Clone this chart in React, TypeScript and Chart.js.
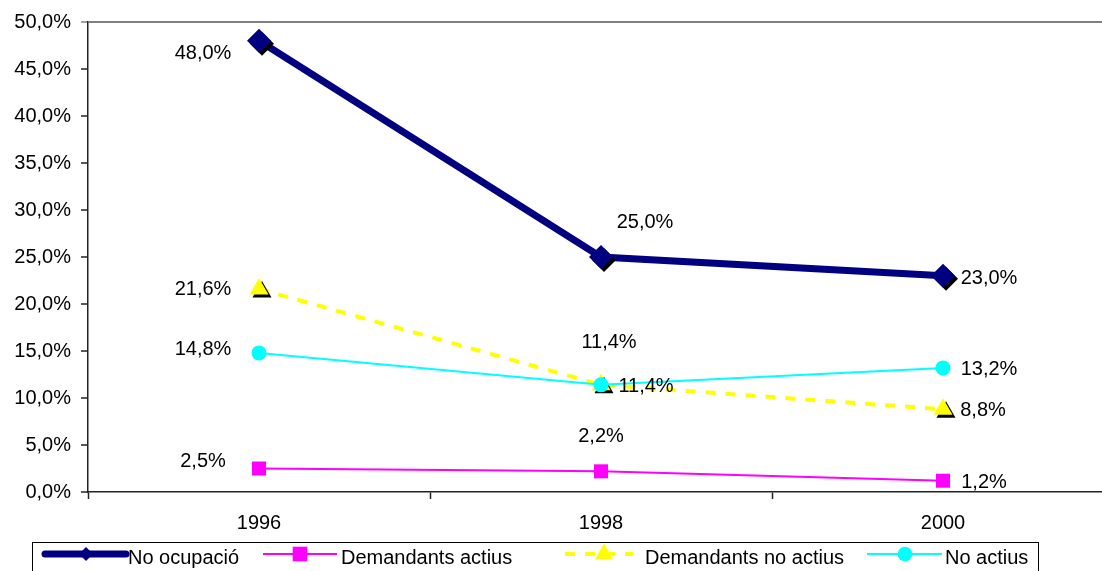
import React, { useEffect, useRef } from 'react';
import { Chart, registerables } from 'chart.js';

Chart.register(...registerables);

// ---- data ----
const years = ['1996', '1998', '2000'];
const seriesNames = ['No ocupació', 'Demandants actius', 'Demandants no actius', 'No actius'];
const noOcupacio = [48.0, 25.0, 23.0];
const demandantsActius = [2.5, 2.2, 1.2];
const demandantsNoActius = [21.6, 11.4, 8.8];
const noActius = [14.8, 11.4, 13.2];
const yMin = 0;
const yMax = 50;
const yStep = 5;

// ---- style ----
const FONT_FAMILY = '"Liberation Sans", Arial, sans-serif';
const FONT_SIZE = 20;
const FONT = `${FONT_SIZE}px ${FONT_FAMILY}`;

const styles = [
  { color: '#000080', width: 7, dash: [] as number[], shape: 'diamond', r: 12, shadow: true, legendR: 7 },
  { color: '#FF00FF', width: 2, dash: [] as number[], shape: 'square', r: 7, shadow: false, legendR: 7.3 },
  { color: '#FFFF00', width: 4, dash: [10, 10], shape: 'triangle', r: 11, shadow: true, legendR: 10.4 },
  { color: '#00FFFF', width: 2, dash: [] as number[], shape: 'circle', r: 7.5, shadow: false, legendR: 7.3 },
];

// label offsets relative to point (dx, dy) for the center of the label
const labelOffsets = [
  [[-56, 13], [44, -35], [46, 3]],
  [[-56, -7], [0, -35], [41, 2]],
  [[-56, 1], [45, 2], [40, 1]],
  [[-56, -3], [8, -42], [46, 2]],
];

// legend layout (x positions in page px)
const legendBox = { x: 32.5, y: 542.5, w: 1006, h: 60 };
const legendLineY = 554;
const legendTextY = 558;
const legendItems = [
  { x0: 45, x1: 126, mx: 86, tx: 128 },
  { x0: 263, x1: 337, mx: 300, tx: 341 },
  { x0: 565, x1: 633, mx: 604, tx: 645 },
  { x0: 867, x1: 942, mx: 905, tx: 945 },
];

const fmt = (v: number) => v.toFixed(1).replace('.', ',') + '%';

function drawShape(ctx: CanvasRenderingContext2D, shape: string, x: number, y: number, r: number) {
  ctx.beginPath();
  if (shape === 'diamond') {
    ctx.moveTo(x - r, y);
    ctx.lineTo(x, y - r);
    ctx.lineTo(x + r, y);
    ctx.lineTo(x, y + r);
  } else if (shape === 'triangle') {
    ctx.moveTo(x, y - r);
    ctx.lineTo(x + 0.866 * r, y + 0.5 * r);
    ctx.lineTo(x - 0.866 * r, y + 0.5 * r);
  } else if (shape === 'square') {
    ctx.rect(x - r, y - r, 2 * r, 2 * r);
  } else {
    ctx.arc(x, y, r, 0, Math.PI * 2);
  }
  ctx.closePath();
  ctx.fill();
}

const markerPlugin = {
  id: 'markers',
  afterDatasetDraw(chart: any, args: any) {
    const st = styles[args.index];
    const ctx = chart.ctx as CanvasRenderingContext2D;
    ctx.save();
    args.meta.data.forEach((pt: any) => {
      if (st.shadow) {
        ctx.fillStyle = '#000';
        drawShape(ctx, st.shape, pt.x + 3, pt.y + 3, st.r);
      }
      ctx.fillStyle = st.color;
      drawShape(ctx, st.shape, pt.x, pt.y, st.r);
    });
    ctx.restore();
  },
};

const labelPlugin = {
  id: 'valueLabels',
  afterDatasetsDraw(chart: any) {
    const ctx = chart.ctx as CanvasRenderingContext2D;
    ctx.save();
    ctx.font = FONT;
    ctx.fillStyle = '#000';
    ctx.textAlign = 'center';
    ctx.textBaseline = 'middle';
    chart.data.datasets.forEach((ds: any, i: number) => {
      const meta = chart.getDatasetMeta(i);
      meta.data.forEach((pt: any, j: number) => {
        const [dx, dy] = labelOffsets[i][j];
        ctx.fillText(fmt(ds.data[j]), pt.x + dx, pt.y + dy);
      });
    });
    ctx.restore();
  },
};

const legendPlugin = {
  id: 'boxLegend',
  afterDraw(chart: any) {
    const ctx = chart.ctx as CanvasRenderingContext2D;
    ctx.save();
    ctx.fillStyle = '#fff';
    ctx.fillRect(legendBox.x, legendBox.y, legendBox.w, legendBox.h);
    ctx.strokeStyle = '#000';
    ctx.lineWidth = 1;
    ctx.strokeRect(legendBox.x, legendBox.y, legendBox.w, legendBox.h);
    legendItems.forEach((it, i) => {
      const st = styles[i];
      ctx.save();
      ctx.strokeStyle = st.color;
      ctx.lineWidth = st.width;
      ctx.lineCap = i === 0 ? 'round' : 'butt';
      ctx.setLineDash(st.dash);
      ctx.beginPath();
      ctx.moveTo(it.x0, legendLineY);
      ctx.lineTo(it.x1, legendLineY);
      ctx.stroke();
      ctx.restore();
      ctx.fillStyle = st.color;
      drawShape(ctx, st.shape, it.mx, legendLineY, st.legendR);
      ctx.fillStyle = '#000';
      ctx.font = FONT;
      ctx.textAlign = 'left';
      ctx.textBaseline = 'middle';
      ctx.fillText(seriesNames[i], it.tx, legendTextY);
    });
    ctx.restore();
  },
};

export default function App() {
  const ref = useRef<HTMLCanvasElement | null>(null);
  useEffect(() => {
    if (!ref.current) return;
    const seriesData = [noOcupacio, demandantsActius, demandantsNoActius, noActius];
    const chart = new Chart(ref.current, {
      type: 'line',
      data: {
        labels: years,
        datasets: seriesData.map((d, i) => ({
          label: seriesNames[i],
          data: d,
          borderColor: styles[i].color,
          backgroundColor: styles[i].color,
          borderWidth: styles[i].width,
          borderDash: styles[i].dash,
          pointRadius: 0,
          pointHoverRadius: 0,
          tension: 0,
          fill: false,
          order: 4 - i,
        })),
      },
      options: {
        responsive: false,
        animation: false,
        events: [],
        layout: { padding: { top: 20, left: 0, right: 0, bottom: 58 } },
        plugins: { legend: { display: false }, tooltip: { enabled: false } },
        scales: {
          x: {
            type: 'category',
            offset: true,
            afterFit: (s: any) => { s.height = 50; },
            grid: {
              display: true,
              drawOnChartArea: false,
              drawTicks: true,
              tickLength: 7,
              tickColor: '#222',
              tickWidth: 1.5,
              offset: true,
            },
            border: { display: true, color: '#222', width: 1.5 },
            ticks: { color: '#000', font: { family: FONT_FAMILY, size: FONT_SIZE }, padding: 12, maxRotation: 0 },
          },
          y: {
            min: yMin,
            max: yMax,
            afterFit: (s: any) => { s.width = 88; },
            grid: {
              drawOnChartArea: true,
              color: (c: any) => (c.tick && c.tick.value === yMax ? '#808080' : 'rgba(0,0,0,0)'),
              lineWidth: 2,
              tickLength: 7,
              tickColor: (c: any) => (c.tick && c.tick.value === yMax ? '#808080' : '#222'),
              tickWidth: 1.5,
            },
            border: { display: true, color: '#222', width: 1.5 },
            ticks: {
              stepSize: yStep,
              color: '#000',
              font: { family: FONT_FAMILY, size: FONT_SIZE },
              padding: 10,
              callback: (v: any) => fmt(Number(v)),
            },
          },
        },
      },
      plugins: [markerPlugin, labelPlugin, legendPlugin],
    });
    return () => chart.destroy();
  }, []);

  return (
    <div style={{ position: 'fixed', left: 0, top: 0, width: 1102, height: 571, overflow: 'hidden', background: '#fff' }}>
      <canvas ref={ref} width={1114} height={600} style={{ display: 'block' }} />
    </div>
  );
}
